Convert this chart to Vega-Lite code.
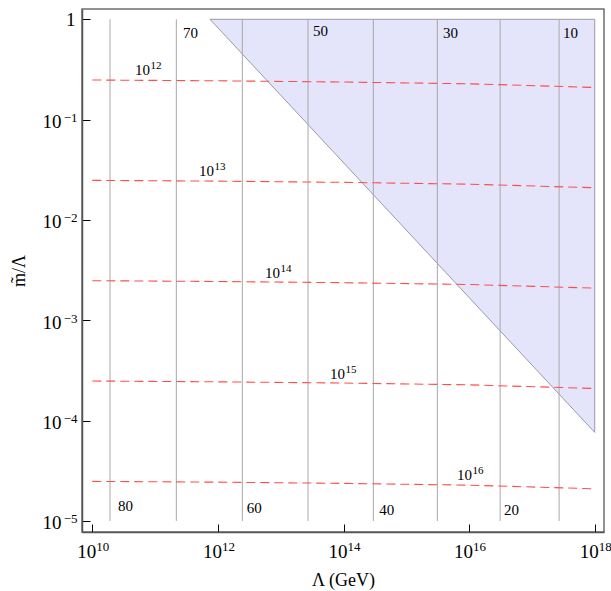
{
  "$schema": "https://vega.github.io/schema/vega-lite/v6.json",
  "width": 522,
  "height": 523,
  "autosize": {"type": "none"},
  "padding": {"left": 82, "top": 9, "right": 7, "bottom": 59},
  "config": {"view": {"stroke": "#6e6e6e", "strokeWidth": 1.5}, "font": "Liberation Serif"},
  "resolve": {"axis": {"x": "independent", "y": "independent"}},
  "datasets": {
    "region": [
      {"L": 7.482e11, "m": 1, "m2": 1},
      {"L": 1e18, "m": 7.638e-5, "m2": 1}
    ],
    "efold": [
      {"L": 1.914e10, "N": "80", "Lt": 2.564e10, "mt": 1.41e-5},
      {"L": 2.178e11, "N": "70", "Lt": 2.780e11, "mt": 0.738},
      {"L": 2.449e12, "N": "60", "Lt": 2.877e12, "mt": 1.36e-5},
      {"L": 2.723e13, "N": "50", "Lt": 3.266e13, "mt": 0.764},
      {"L": 2.985e14, "N": "40", "Lt": 3.715e14, "mt": 1.30e-5},
      {"L": 3.119e15, "N": "30", "Lt": 3.837e15, "mt": 0.730},
      {"L": 3.119e16, "N": "20", "Lt": 3.597e16, "mt": 1.30e-5},
      {"L": 2.710e17, "N": "10", "Lt": 3.126e17, "mt": 0.730}
    ],
    "curves": [
      {"s": "12", "L": 1e10, "m": 0.2483}, {"s": "12", "L": 1e12, "m": 0.2438}, {"s": "12", "L": 1e14, "m": 0.2371}, {"s": "12", "L": 1e16, "m": 0.2275}, {"s": "12", "L": 1e18, "m": 0.2094},
      {"s": "13", "L": 1e10, "m": 0.02483}, {"s": "13", "L": 1e12, "m": 0.02438}, {"s": "13", "L": 1e14, "m": 0.02371}, {"s": "13", "L": 1e16, "m": 0.02275}, {"s": "13", "L": 1e18, "m": 0.02094},
      {"s": "14", "L": 1e10, "m": 0.002483}, {"s": "14", "L": 1e12, "m": 0.002438}, {"s": "14", "L": 1e14, "m": 0.002371}, {"s": "14", "L": 1e16, "m": 0.002275}, {"s": "14", "L": 1e18, "m": 0.002094},
      {"s": "15", "L": 1e10, "m": 0.0002483}, {"s": "15", "L": 1e12, "m": 0.0002438}, {"s": "15", "L": 1e14, "m": 0.0002371}, {"s": "15", "L": 1e16, "m": 0.0002275}, {"s": "15", "L": 1e18, "m": 0.0002094},
      {"s": "16", "L": 1e10, "m": 0.00002483}, {"s": "16", "L": 1e12, "m": 0.00002438}, {"s": "16", "L": 1e14, "m": 0.00002371}, {"s": "16", "L": 1e16, "m": 0.00002275}, {"s": "16", "L": 1e18, "m": 0.00002094}
    ],
    "curveLabels": [
      {"base": "10", "exp": "12", "L": 8.299e10, "m": 0.2786},
      {"base": "10", "exp": "13", "L": 8.670e11, "m": 0.02742},
      {"base": "10", "exp": "14", "L": 9.750e12, "m": 0.002661},
      {"base": "10", "exp": "15", "L": 1.057e14, "m": 0.0002600},
      {"base": "10", "exp": "16", "L": 1.112e16, "m": 0.00002564}
    ]
  },
  "layer": [
    {
      "data": {"name": "region"},
      "mark": {"type": "area", "fill": "#e4e4fb", "stroke": "#9a9aa6", "strokeWidth": 1},
      "encoding": {
        "x": {
          "field": "L", "type": "quantitative",
          "scale": {"type": "log", "domain": [6.855e9, 1.406e18], "nice": false},
          "axis": {
            "orient": "bottom",
            "values": [1e10, 1e12, 1e14, 1e16, 1e18],
            "labelExpr": "'10'",
            "grid": false,
            "tickSize": -8, "tickColor": "#000", "tickWidth": 1,
            "domainColor": "#555", "domainWidth": 1.5,
            "labelFont": "Liberation Serif", "labelFontSize": 19, "labelColor": "#000",
            "labelAlign": "center", "labelBaseline": "alphabetic",
            "labelPadding": 33, "labelOffset": -6, "labelFlush": false, "labelOverlap": false,
            "title": "Λ (GeV)", "titleFont": "Liberation Serif", "titleFontSize": 18,
            "titleFontWeight": "normal", "titleColor": "#000",
            "titleY": 53, "titleBaseline": "alphabetic"
          }
        },
        "y": {
          "field": "m", "type": "quantitative",
          "scale": {"type": "log", "domain": [7.769e-6, 1.2667], "nice": false},
          "axis": {
            "orient": "left",
            "values": [0.00001, 0.0001, 0.001, 0.01, 0.1, 1],
            "labelExpr": "datum.value > 0.5 ? '1' : '10'",
            "grid": false,
            "tickSize": -8, "tickColor": "#000", "tickWidth": 1,
            "domainColor": "#555", "domainWidth": 1.5,
            "labelFont": "Liberation Serif", "labelFontSize": 19, "labelColor": "#000",
            "labelAlign": "right", "labelBaseline": "alphabetic",
            "labelPadding": {"condition": {"test": "datum.value > 0.5", "value": 15}, "value": 29},
            "labelOffset": {"condition": {"test": "datum.value > 0.5", "value": 6}, "value": 8},
            "labelFlush": false, "labelOverlap": false,
            "title": "m̃/Λ", "titleFont": "Liberation Serif", "titleFontSize": 18,
            "titleFontWeight": "normal", "titleColor": "#000",
            "titleAngle": 270, "titleX": -58, "titleY": 261.5,
            "titleBaseline": "alphabetic", "titleAlign": "center"
          }
        },
        "y2": {"field": "m2"}
      }
    },
    {
      "data": {"name": "efold"},
      "mark": {"type": "rule", "color": "#a8a8a8", "strokeWidth": 1},
      "encoding": {
        "x": {"field": "L", "type": "quantitative", "axis": null},
        "y": {"datum": 0.00001, "axis": null},
        "y2": {"datum": 1}
      }
    },
    {
      "data": {"name": "curves"},
      "mark": {"type": "line", "color": "#ff4d4d", "strokeWidth": 1.1, "strokeDash": [9, 5]},
      "encoding": {
        "x": {
          "field": "L", "type": "quantitative",
          "axis": {
            "orient": "bottom",
            "values": [1e10, 1e12, 1e14, 1e16, 1e18],
            "labelExpr": "datum.value < 1e11 ? '10' : datum.value < 1e13 ? '12' : datum.value < 1e15 ? '14' : datum.value < 1e17 ? '16' : '18'",
            "grid": false, "ticks": false, "domain": false, "title": null,
            "labelFont": "Liberation Serif", "labelFontSize": 13, "labelColor": "#000",
            "labelAlign": "left", "labelBaseline": "alphabetic",
            "labelPadding": 18, "labelOffset": 3.5, "labelFlush": false, "labelOverlap": false
          }
        },
        "y": {
          "field": "m", "type": "quantitative",
          "axis": {
            "orient": "left",
            "values": [0.00001, 0.0001, 0.001, 0.01, 0.1, 1],
            "labelExpr": "datum.value > 0.5 ? '' : datum.value > 0.05 ? '−1' : datum.value > 0.005 ? '−2' : datum.value > 0.0005 ? '−3' : datum.value > 0.00005 ? '−4' : '−5'",
            "grid": false, "ticks": false, "domain": false, "title": null,
            "labelFont": "Liberation Serif", "labelFontSize": 13, "labelColor": "#000",
            "labelAlign": "right", "labelBaseline": "alphabetic",
            "labelPadding": 5, "labelOffset": 2, "labelFlush": false, "labelOverlap": false
          }
        },
        "detail": {"field": "s"}
      }
    },
    {
      "data": {"name": "efold"},
      "mark": {"type": "text", "align": "left", "baseline": "middle", "font": "Liberation Serif", "fontSize": 15, "color": "#000"},
      "encoding": {
        "x": {"field": "Lt", "type": "quantitative", "axis": null},
        "y": {"field": "mt", "type": "quantitative", "axis": null},
        "text": {"field": "N"}
      }
    },
    {
      "data": {"name": "curveLabels"},
      "mark": {"type": "text", "align": "right", "baseline": "alphabetic", "font": "Liberation Serif", "fontSize": 15, "color": "#000"},
      "encoding": {
        "x": {"field": "L", "type": "quantitative", "axis": null},
        "y": {"field": "m", "type": "quantitative", "axis": null},
        "text": {"field": "base"}
      }
    },
    {
      "data": {"name": "curveLabels"},
      "mark": {"type": "text", "align": "left", "baseline": "alphabetic", "dx": 0.5, "dy": -6, "font": "Liberation Serif", "fontSize": 11, "color": "#000"},
      "encoding": {
        "x": {"field": "L", "type": "quantitative", "axis": null},
        "y": {"field": "m", "type": "quantitative", "axis": null},
        "text": {"field": "exp"}
      }
    }
  ]
}
